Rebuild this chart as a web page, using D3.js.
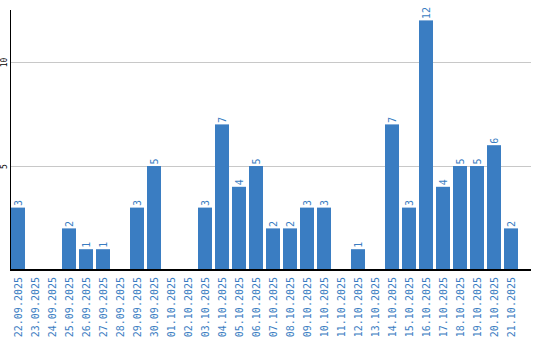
<!DOCTYPE html>
<html><head><meta charset="utf-8">
<script src="https://cdn.jsdelivr.net/npm/d3@7"></script>
<style>body{margin:0;background:#fff}svg{display:block}</style>
</head><body>
<script>
const categories = ["22.09.2025","23.09.2025","24.09.2025","25.09.2025","26.09.2025","27.09.2025","28.09.2025","29.09.2025","30.09.2025","01.10.2025","02.10.2025","03.10.2025","04.10.2025","05.10.2025","06.10.2025","07.10.2025","08.10.2025","09.10.2025","10.10.2025","11.10.2025","12.10.2025","13.10.2025","14.10.2025","15.10.2025","16.10.2025","17.10.2025","18.10.2025","19.10.2025","20.10.2025","21.10.2025"];
const values = [3,0,0,2,1,1,0,3,5,0,0,3,7,4,5,2,2,3,3,0,1,0,7,3,12,4,5,5,6,2];
const yTicks = [5,10];

const W = 540, H = 340;
const color = "#3a7dc2";
const svg = d3.select("body").append("svg").attr("width", W).attr("height", H);

const x = d3.scaleBand().domain(categories).range([11, 518]).paddingInner(3/17).paddingOuter(0).align(0);
const y = d3.scaleLinear().domain([0, 12.5]).range([270, 10]);

// gridlines
svg.append("g").selectAll("line").data(yTicks).join("line")
  .attr("x1", 11).attr("x2", 531)
  .attr("y1", d => Math.round(y(d)) + 0.5).attr("y2", d => Math.round(y(d)) + 0.5)
  .attr("stroke", "#c8c8c8").attr("stroke-width", 1);

// y tick labels
svg.append("g").selectAll("text").data(yTicks).join("text")
  .attr("transform", d => `translate(4.5,${Math.round(y(d)) + 0.5}) rotate(-90)`)
  .attr("text-anchor", "middle").attr("dy", "0.35em")
  .attr("font-family", "DejaVu Sans Mono").attr("font-size", 8).attr("fill", "#000")
  .text(d => d);

// bars
svg.append("g").selectAll("rect").data(values).join("rect")
  .attr("x", (d, i) => x(categories[i]))
  .attr("width", x.bandwidth())
  .attr("y", d => y(d))
  .attr("height", d => y(0) - y(d))
  .attr("fill", color);

// value labels
svg.append("g").selectAll("text").data(values.map((v, i) => ({v, c: categories[i]})).filter(d => d.v > 0)).join("text")
  .attr("transform", d => `translate(${x(d.c) + x.bandwidth() / 2},${y(d.v) - 1.5}) rotate(-90)`)
  .attr("text-anchor", "start").attr("dy", "0.35em")
  .attr("font-family", "DejaVu Sans Mono").attr("font-size", 10).attr("fill", color)
  .text(d => d.v);

// axes lines
svg.append("line").attr("x1", 10.5).attr("x2", 10.5).attr("y1", 10).attr("y2", 270).attr("stroke", "#000");
svg.append("line").attr("x1", 10).attr("x2", 531).attr("y1", 270).attr("y2", 270).attr("stroke", "#000").attr("stroke-width", 2);

// x labels
svg.append("g").selectAll("text").data(categories).join("text")
  .attr("transform", d => `translate(${x(d) + x.bandwidth() / 2},277) rotate(-90)`)
  .attr("text-anchor", "end").attr("dy", "0.35em")
  .attr("font-family", "DejaVu Sans Mono").attr("font-size", 10).attr("fill", color)
  .text(d => d);
</script>
</body></html>
